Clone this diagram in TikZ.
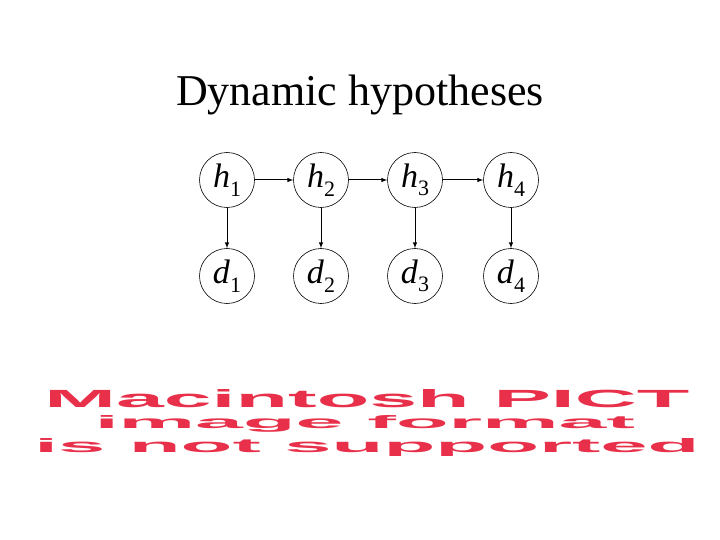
\documentclass[tikz,border=0pt]{standalone}
\usepackage{fontspec}
\setmainfont{Liberation Serif}
\newfontfamily\pictfont{Liberation Sans}
\definecolor{pictred}{HTML}{E8304A}
\newcommand{\varlab}[2]{\textit{#1}\raisebox{-0.25em}{\fontsize{22}{22}\selectfont #2}}
\begin{document}
\begin{tikzpicture}[x=1pt,y=-1pt,
  var/.style={circle,draw,line width=0.6pt,minimum size=55pt,inner sep=0pt,font=\fontsize{34}{34}\selectfont},
  link/.style={-latex,line width=1pt},
  pict/.style={text=pictred,inner sep=0pt,anchor=north}]
\useasboundingbox (0,0) rectangle (720,540);
\node (title) at (360,95) {\fontsize{44}{44}\selectfont Dynamic hypotheses};
\foreach \i/\x in {1/227,2/321,3/415,4/511}{
  \node[var] (h\i) at (\x,180) {\varlab{h}{\i}};
  \node[var] (d\i) at (\x,276) {\varlab{d}{\i}};
  \draw[link] (h\i) -- (d\i);
}
\draw[link] (h1) -- (h2);
\draw[link] (h2) -- (h3);
\draw[link] (h3) -- (h4);
\node[pict] (p1) at (367,389) {\resizebox{645pt}{18pt}{\pictfont\bfseries Macintosh PICT}};
\node[pict] (p2) at (365,415) {\resizebox{540pt}{13pt}{\pictfont\bfseries image format}};
\node[pict] (p3) at (367,438) {\resizebox{665pt}{14pt}{\pictfont\bfseries is not supported}};
\end{tikzpicture}
\end{document}
